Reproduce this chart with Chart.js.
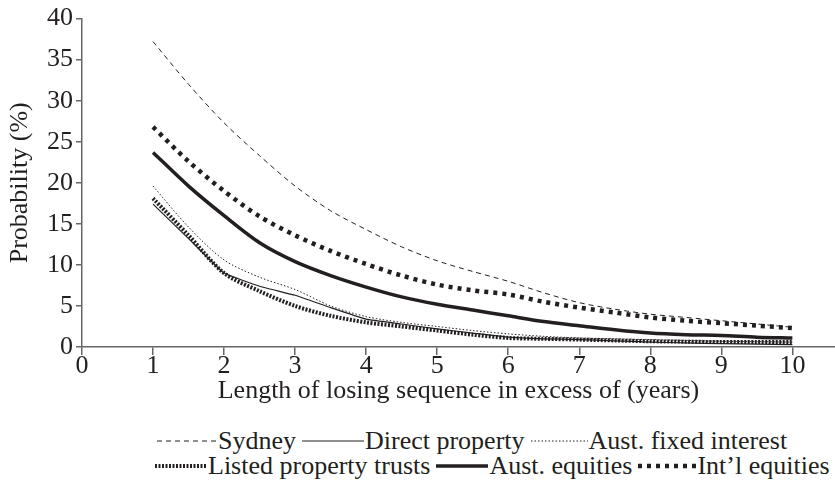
<!DOCTYPE html>
<html lang="en">
<head>
  <meta charset="UTF-8" />
  <title>Losing sequence probability</title>
  <script src="https://cdn.jsdelivr.net/npm/chart.js"></script>
  <style>
    body {
      margin: 0;
      background: #fff;
      font-family: 'Liberation Serif', serif;
      color: #231f20;
    }

    .wrap {
      width: 835px;
      height: 484px;
      position: relative;
    }

    .chart-box {
      width: 835px;
      height: 407px;
    }

    .legend {
      position: absolute;
      left: 0;
      top: 0;
      width: 835px;
      font-size: 26px;
      line-height: 25px;
    }

    .legend .row {
      position: absolute;
      white-space: nowrap;
      display: flex;
      align-items: center;
    }

    .legend svg {
      display: block;
    }
  </style>
</head>
<body>
  <div class="wrap">
    <div class="chart-box"><canvas id="lossChart"></canvas></div>
    <div class="legend" id="legend"></div>
  </div>

  <script>
    const years = [1, 1.5, 2, 2.5, 3, 3.5, 4, 4.5, 5, 5.5, 6, 6.5, 7, 7.5, 8, 8.5, 9, 9.5, 10];

    const sydney        = [37.2, 32.0, 27.3, 23.3, 19.6, 16.6, 14.3, 12.2, 10.5, 9.2, 8.0, 6.6, 5.4, 4.6, 4.0, 3.6, 3.2, 2.8, 2.4];
    const directProp    = [17.4, 13.2, 9.0, 7.4, 6.3, 4.8, 3.4, 2.8, 2.2, 1.7, 1.2, 1.0, 0.9, 0.75, 0.6, 0.5, 0.4, 0.35, 0.3];
    const fixedInterest = [19.6, 14.6, 10.6, 8.5, 7.0, 5.0, 3.7, 3.0, 2.5, 2.0, 1.6, 1.3, 1.1, 1.0, 0.9, 0.8, 0.7, 0.65, 0.6];
    const listedTrusts  = [18.1, 13.6, 9.0, 6.8, 5.0, 3.8, 3.0, 2.5, 2.0, 1.5, 1.1, 1.0, 0.9, 0.8, 0.7, 0.65, 0.6, 0.6, 0.6];
    const ausEquities   = [23.7, 19.6, 16.0, 12.7, 10.4, 8.7, 7.3, 6.1, 5.2, 4.5, 3.8, 3.1, 2.6, 2.1, 1.7, 1.5, 1.4, 1.2, 1.1];
    const intlEquities  = [26.8, 22.6, 19.0, 15.9, 13.6, 11.7, 10.1, 8.7, 7.6, 6.9, 6.4, 5.5, 4.8, 4.2, 3.6, 3.2, 2.9, 2.6, 2.3];

    const xTicks = [0, 1, 2, 3, 4, 5, 6, 7, 8, 9, 10];
    const yTicks = [0, 5, 10, 15, 20, 25, 30, 35, 40];

    const ink = '#231f20';
    const fontFamily = "'Liberation Serif', serif";

    // line looks per series: width, dash, tension
    const series = [
      { label: 'Sydney', data: sydney, width: 1, dash: [5, 4], tension: 0.3 },
      { label: 'Direct property', data: directProp, width: 1.2, dash: [], tension: 0.1 },
      { label: 'Aust. fixed interest', data: fixedInterest, width: 1, dash: [1.5, 2], tension: 0.3 },
      { label: 'Listed property trusts', data: listedTrusts, width: 4, dash: [2, 1.5], tension: 0.3 },
      { label: 'Aust. equities', data: ausEquities, width: 3.5, dash: [], tension: 0.3 },
      { label: 'Int\u2019l equities', data: intlEquities, width: 4.5, dash: [4, 5], tension: 0.3 }
    ];

    function drawChart() {
      const datasets = series.map(s => ({
        label: s.label,
        data: s.data.map((v, i) => ({ x: years[i], y: v })),
        borderColor: ink,
        backgroundColor: ink,
        borderWidth: s.width,
        borderDash: s.dash,
        borderCapStyle: 'butt',
        pointRadius: 0,
        tension: s.tension,
        fill: false
      }));

      new Chart(document.getElementById('lossChart'), {
        type: 'line',
        data: { datasets },
        options: {
          responsive: true,
          maintainAspectRatio: false,
          animation: false,
          layout: { padding: { top: 6, right: 0, left: 0, bottom: 0 } },
          plugins: {
            legend: { display: false },
            tooltip: { enabled: false }
          },
          scales: {
            x: {
              type: 'linear',
              min: 0,
              max: 10.6,
              afterBuildTicks: axis => { axis.ticks = xTicks.map(v => ({ value: v })); },
              afterFit: axis => { axis.height = 60; },
              grid: {
                display: true,
                drawOnChartArea: false,
                drawTicks: true,
                tickLength: 8,
                color: '#666',
                lineWidth: 1.5
              },
              border: { color: '#666', width: 1.5 },
              ticks: {
                color: ink,
                padding: -4,
                maxRotation: 0,
                font: { family: fontFamily, size: 26 }
              },
              title: {
                display: true,
                text: 'Length of losing sequence in excess of (years)',
                color: ink,
                padding: { top: 2, bottom: 0 },
                font: { family: fontFamily, size: 26 }
              }
            },
            y: {
              min: 0,
              max: 40,
              afterBuildTicks: axis => { axis.ticks = yTicks.map(v => ({ value: v })); },
              afterFit: axis => { axis.width = 82; },
              grid: {
                display: true,
                drawOnChartArea: false,
                drawTicks: true,
                tickLength: 6,
                color: '#666',
                lineWidth: 1.5
              },
              border: { color: '#666', width: 1.5 },
              ticks: {
                color: ink,
                padding: 3,
                font: { family: fontFamily, size: 26 }
              },
              title: {
                display: true,
                text: 'Probability (%)',
                color: ink,
                padding: { top: 5, bottom: 0 },
                font: { family: fontFamily, size: 26 }
              }
            }
          }
        }
      });
    }

    // legend built as html, samples drawn as small svg lines
    const legendRows = [
      { top: 428, left: 157, items: [0, 1, 2], samples: [60, 62, 57] },
      { top: 453, left: 155, items: [3, 4, 5], samples: [52, 52, 58] }
    ];

    function drawLegend() {
      const legendEl = document.getElementById('legend');
      legendRows.forEach(row => {
        const div = document.createElement('div');
        div.className = 'row';
        div.style.top = row.top + 'px';
        div.style.left = row.left + 'px';
        row.items.forEach((idx, k) => {
          const s = series[idx];
          const w = row.samples[k];
          const svg = document.createElementNS('http://www.w3.org/2000/svg', 'svg');
          svg.setAttribute('width', w);
          svg.setAttribute('height', 12);
          const line = document.createElementNS('http://www.w3.org/2000/svg', 'line');
          line.setAttribute('x1', 0);
          line.setAttribute('x2', w);
          line.setAttribute('y1', 6);
          line.setAttribute('y2', 6);
          line.setAttribute('stroke', ink);
          line.setAttribute('stroke-width', s.width);
          if (s.dash.length) line.setAttribute('stroke-dasharray', s.dash.join(' '));
          svg.appendChild(line);
          const span = document.createElement('span');
          span.textContent = s.label;
          span.style.marginRight = k < row.items.length - 1 ? '6px' : '0';
          span.style.marginLeft = '1px';
          div.appendChild(svg);
          div.appendChild(span);
        });
        legendEl.appendChild(div);
      });
    }

    drawLegend();
    document.fonts.load("26px 'Liberation Serif'").then(drawChart, drawChart);
  </script>
</body>
</html>
